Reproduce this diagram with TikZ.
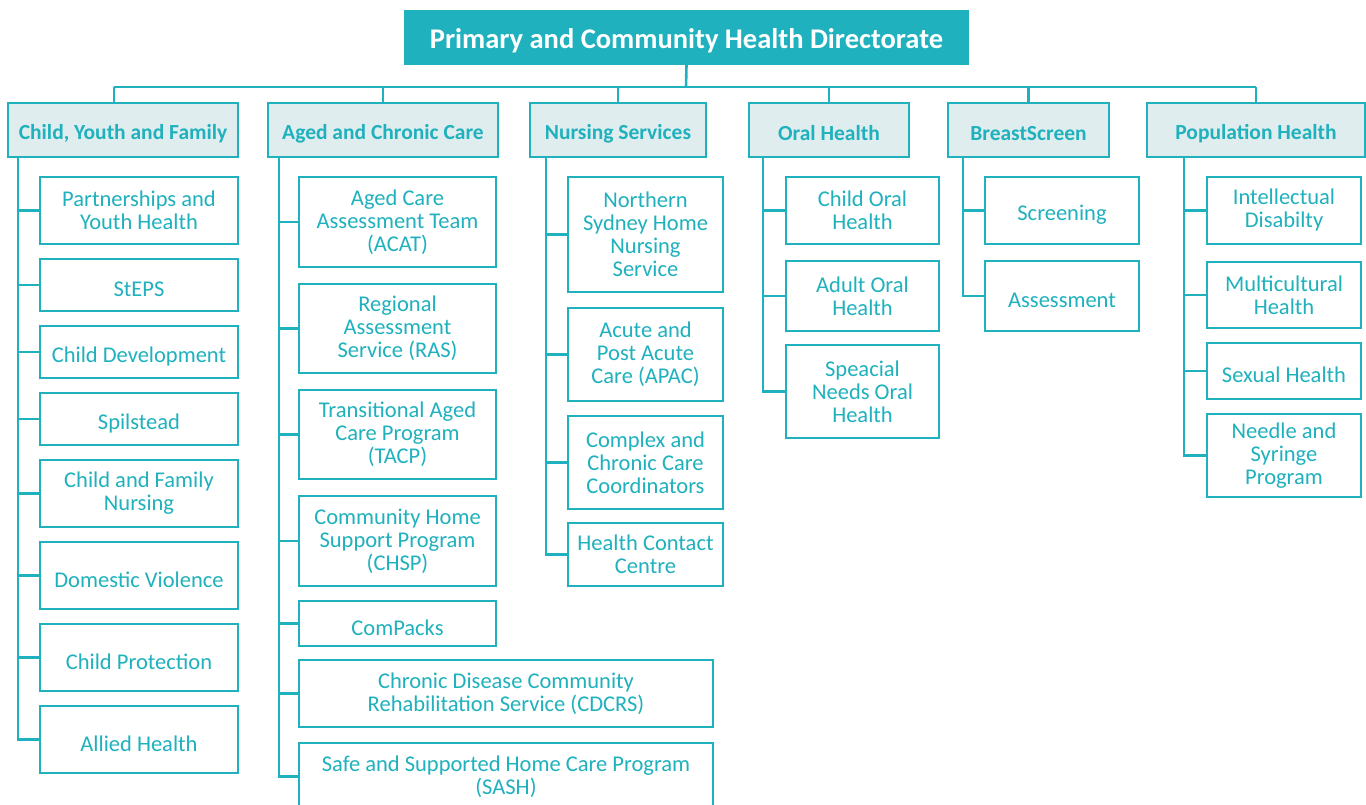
\documentclass[tikz,border=0pt]{standalone}
\usepackage{fontspec}
\setmainfont{Carlito}
\definecolor{teal}{HTML}{1FB1BD}
\definecolor{headfill}{HTML}{DFEDEE}
\tikzset{
  dirbox/.style={fill=teal, text=white, inner sep=0, font=\bfseries\fontsize{28.5}{32}\selectfont,
    execute at begin node={\rule{0pt}{27pt}}},
  grpbox/.style={draw=teal, fill=headfill, text=teal, inner sep=0, line width=2.6,
    minimum height=54, font=\bfseries\fontsize{21.5}{24}\selectfont,
    execute at begin node={\rule{0pt}{22pt}}},
  svcbox/.style={draw=teal, fill=white, text=teal, inner sep=0, line width=2.6,
    align=center, font=\fontsize{22.5}{23}\selectfont,
    execute at begin node={\rule{0pt}{24pt}}},
  link/.style={draw=teal, line width=2.6}
}
\begin{document}
\begin{tikzpicture}[x=1pt, y=-1pt]
  \useasboundingbox (0,0) rectangle (1366,805);
  \clip (0,0) rectangle (1366,805);

  % directorate and groups
  \node[dirbox, minimum width=565, minimum height=55] (top) at (686.5,37.5) {Primary and Community Health Directorate};
  \node[grpbox, minimum width=230] (h1) at (123,130) {Child, Youth and Family};
  \node[grpbox, minimum width=230] (h2) at (383,130) {Aged and Chronic Care};
  \node[grpbox, minimum width=176] (h3) at (618,130) {Nursing Services};
  \node[grpbox, minimum width=160] (h4) at (829,130) {Oral Health};
  \node[grpbox, minimum width=161] (h5) at (1028.5,130) {BreastScreen};
  \node[grpbox, minimum width=218] (h6) at (1256,130) {Population Health};

  \coordinate (bus) at (686,87);
  \draw[link] (top.south) -- (bus);
  \draw[link] ([xshift=-9]h1.north |- bus) -- (h6.north |- bus);
  \draw[link] ([xshift=-9]h1.north) -- ([xshift=-9]h1.north |- bus);
  \foreach \h in {h2,h3,h4,h5,h6}
    \draw[link] (\h.north) -- (\h.north |- bus);

  % child, youth and family
  \node[svcbox, minimum width=198, minimum height=67] (cyf1) at (139,210.5) {Partnerships and\\Youth Health};
  \node[svcbox, minimum width=198, minimum height=52] (cyf2) at (139,285) {StEPS};
  \node[svcbox, minimum width=198, minimum height=52] (cyf3) at (139,352) {Child Development};
  \node[svcbox, minimum width=198, minimum height=52] (cyf4) at (139,419) {Spilstead};
  \node[svcbox, minimum width=198, minimum height=67] (cyf5) at (139,493.5) {Child and Family\\Nursing};
  \node[svcbox, minimum width=198, minimum height=67] (cyf6) at (139,575.5) {Domestic Violence};
  \node[svcbox, minimum width=198, minimum height=67] (cyf7) at (139,657.5) {Child Protection};
  \node[svcbox, minimum width=198, minimum height=67] (cyf8) at (139,739.5) {Allied Health};
  \coordinate (s1) at (18,157);
  \draw[link] (s1) |- (cyf8.west);
  \foreach \i in {1,...,7}
    \draw[link] (s1 |- cyf\i.west) -- (cyf\i.west);

  % aged and chronic care
  \node[svcbox, minimum width=197, minimum height=90] (acc1) at (397.5,222) {Aged Care\\Assessment Team\\(ACAT)};
  \node[svcbox, minimum width=197, minimum height=89] (acc2) at (397.5,328.5) {Regional\\Assessment\\Service (RAS)};
  \node[svcbox, minimum width=197, minimum height=89] (acc3) at (397.5,434.5) {Transitional Aged\\Care Program\\(TACP)};
  \node[svcbox, minimum width=197, minimum height=90] (acc4) at (397.5,541) {Community Home\\Support Program\\(CHSP)};
  \node[svcbox, minimum width=197, minimum height=45] (acc5) at (397.5,623.5) {ComPacks};
  \node[svcbox, minimum width=414, minimum height=67] (acc6) at (506,693.5) {Chronic Disease Community\\Rehabilitation Service (CDCRS)};
  \node[svcbox, minimum width=414, minimum height=67] (acc7) at (506,776.5) {Safe and Supported Home Care Program\\(SASH)};
  \coordinate (s2) at (279,157);
  \draw[link] (s2) |- (acc7.west);
  \foreach \i in {1,...,6}
    \draw[link] (s2 |- acc\i.west) -- (acc\i.west);

  % nursing services
  \node[svcbox, minimum width=155, minimum height=115] (ns1) at (645.5,234.5) {Northern\\Sydney Home\\Nursing\\Service};
  \node[svcbox, minimum width=155, minimum height=93] (ns2) at (645.5,354.5) {Acute and\\Post Acute\\Care (APAC)};
  \node[svcbox, minimum width=155, minimum height=93] (ns3) at (645.5,462.5) {Complex and\\Chronic Care\\Coordinators};
  \node[svcbox, minimum width=155, minimum height=63] (ns4) at (645.5,554.5) {Health Contact\\Centre};
  \coordinate (s3) at (546,157);
  \draw[link] (s3) |- (ns4.west);
  \foreach \i in {1,2,3}
    \draw[link] (s3 |- ns\i.west) -- (ns\i.west);

  % oral health
  \node[svcbox, minimum width=153, minimum height=67] (oh1) at (862.5,210.5) {Child Oral\\Health};
  \node[svcbox, minimum width=153, minimum height=70] (oh2) at (862.5,296) {Adult Oral\\Health};
  \node[svcbox, minimum width=153, minimum height=93] (oh3) at (862.5,391.5) {Speacial\\Needs Oral\\Health};
  \coordinate (s4) at (763,157);
  \draw[link] (s4) |- (oh3.west);
  \foreach \i in {1,2}
    \draw[link] (s4 |- oh\i.west) -- (oh\i.west);

  % breastscreen
  \node[svcbox, minimum width=154, minimum height=67] (bs1) at (1062,210.5) {Screening};
  \node[svcbox, minimum width=154, minimum height=70] (bs2) at (1062,296) {Assessment};
  \coordinate (s5) at (963,157);
  \draw[link] (s5) |- (bs2.west);
  \draw[link] (s5 |- bs1.west) -- (bs1.west);

  % population health
  \node[svcbox, minimum width=154, minimum height=67] (ph1) at (1284,210.5) {Intellectual\\Disabilty};
  \node[svcbox, minimum width=154, minimum height=66] (ph2) at (1284,295) {Multicultural\\Health};
  \node[svcbox, minimum width=154, minimum height=56] (ph3) at (1284,371) {Sexual Health};
  \node[svcbox, minimum width=154, minimum height=83] (ph4) at (1284,455.5) {Needle and\\Syringe\\Program};
  \coordinate (s6) at (1184,157);
  \draw[link] (s6) |- (ph4.west);
  \foreach \i in {1,2,3}
    \draw[link] (s6 |- ph\i.west) -- (ph\i.west);
\end{tikzpicture}
\end{document}
